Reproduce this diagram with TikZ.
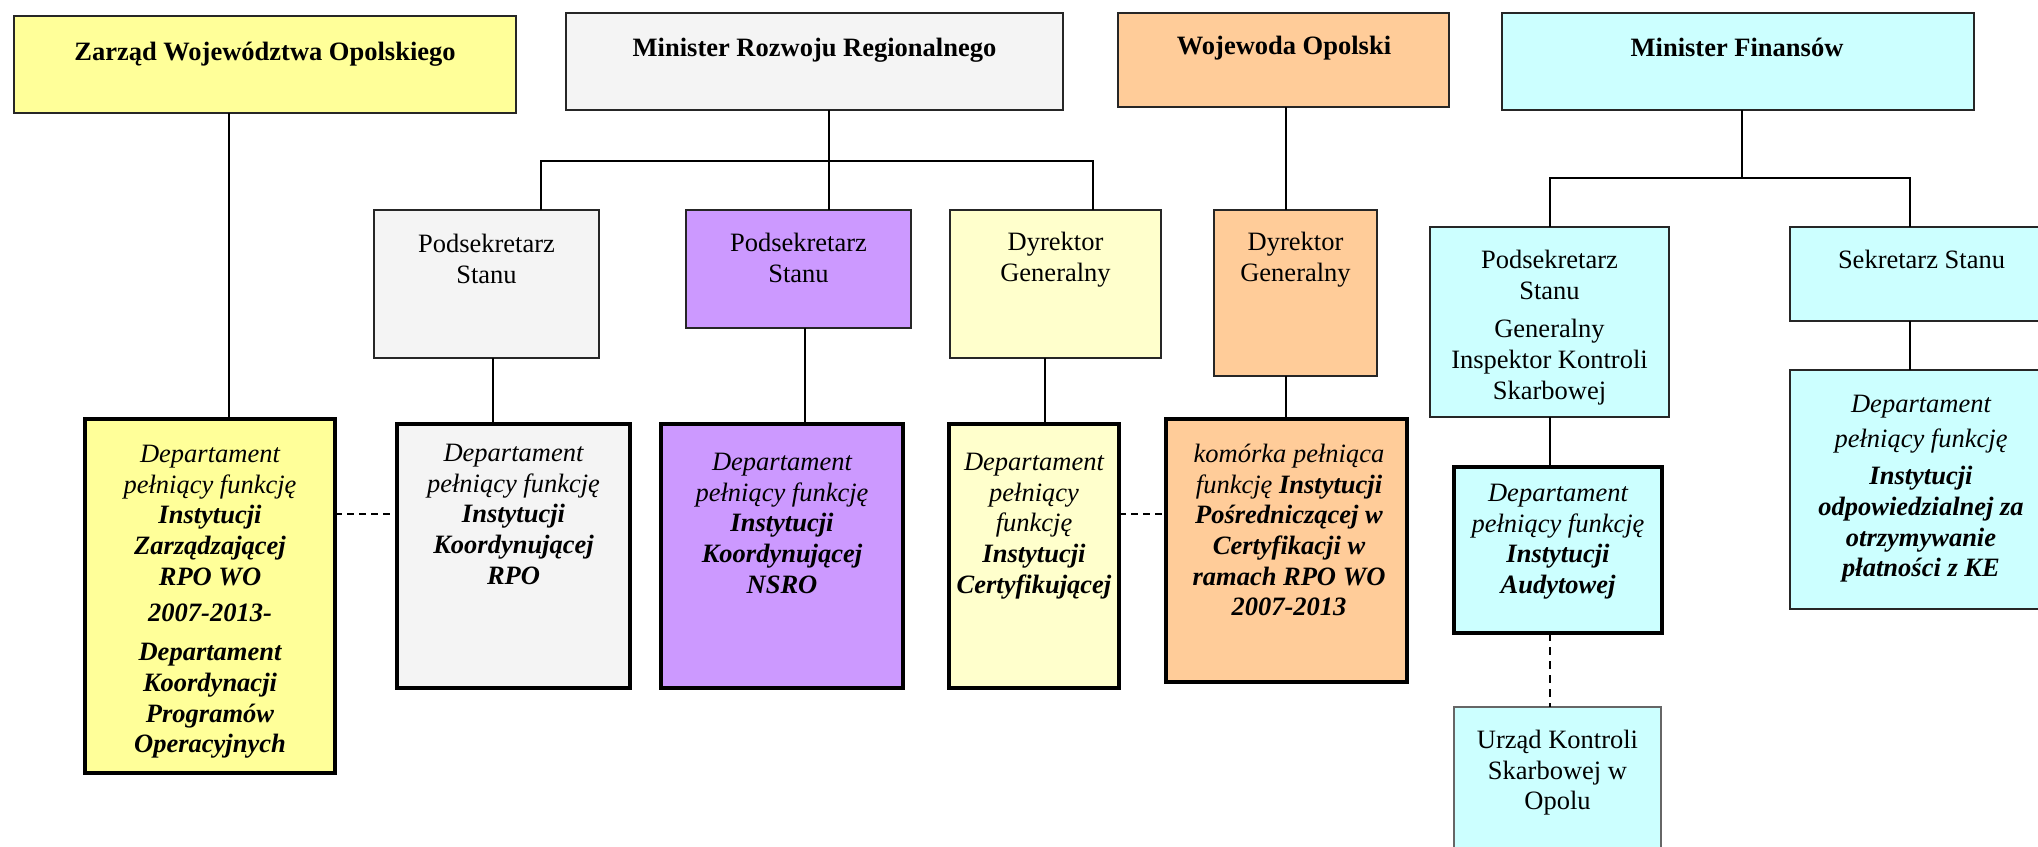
\documentclass[tikz,border=0pt]{standalone}
\usepackage{fontspec}
\setmainfont{Liberation Serif}
\definecolor{cyel}{HTML}{FFFF99}
\definecolor{cgrey}{HTML}{F4F4F4}
\definecolor{cpurp}{HTML}{CC99FF}
\definecolor{clyel}{HTML}{FFFFCC}
\definecolor{corange}{HTML}{FFCC99}
\definecolor{ccyan}{HTML}{CCFFFF}
\newcommand{\bfit}[1]{\textbf{\textit{#1}}}
\tikzset{
  box/.style={draw=black!85, line width=0.85pt, inner sep=0pt, outer sep=0pt, anchor=north west},
  thickbox/.style={draw=black, line width=2pt, inner sep=0pt, outer sep=0pt, anchor=north west},
  txt/.style={font=\fontsize{13.25}{15.35}\selectfont, align=center, inner sep=0pt, anchor=north},
  itxt/.style={txt, font=\fontsize{13.25}{15.35}\selectfont\itshape},
  conn/.style={line width=0.85pt, black},
  dconn/.style={conn, dash pattern=on 3.5pt off 2.5pt},
}
\begin{document}
\begin{tikzpicture}[x=0.5pt, y=-0.5pt]
\clip (0,0) rectangle (2038,846);
\fill[white] (0,0) rectangle (2038,846);

% top level
\node[box, fill=cyel, minimum width=251pt, minimum height=48.5pt] (zarzad) at (14,16) {};
\node[box, fill=cgrey, minimum width=248.5pt, minimum height=48.5pt] (mrr) at (566,13) {};
\node[box, fill=corange, minimum width=165.5pt, minimum height=47pt] (woj) at (1118,13) {};
\node[box, fill=ccyan, minimum width=236pt, minimum height=48.5pt] (mf) at (1502,13) {};

% second level
\node[box, fill=cgrey, minimum width=112.5pt, minimum height=74pt] (pod1) at (374,210) {};
\node[box, fill=cpurp, minimum width=112.5pt, minimum height=59pt] (pod2) at (686,210) {};
\node[box, fill=clyel, minimum width=105.5pt, minimum height=74pt] (dyr1) at (950,210) {};
\node[box, fill=corange, minimum width=81.5pt, minimum height=83pt] (dyr2) at (1214,210) {};
\node[box, fill=ccyan, minimum width=119.5pt, minimum height=95pt] (podmf) at (1430,227) {};
\node[box, fill=ccyan, minimum width=132pt, minimum height=47pt] (sek) at (1790,227) {};

% departments
\node[thickbox, fill=cyel, minimum width=125pt, minimum height=177pt] (dept1) at (85,419) {};
\node[thickbox, fill=cgrey, minimum width=116.5pt, minimum height=132pt] (dept2) at (397,424) {};
\node[thickbox, fill=cpurp, minimum width=121pt, minimum height=132pt] (dept3) at (661,424) {};
\node[thickbox, fill=clyel, minimum width=85pt, minimum height=132pt] (dept4) at (949,424) {};
\node[thickbox, fill=corange, minimum width=120.5pt, minimum height=131.5pt] (dept5) at (1166,419) {};
\node[thickbox, fill=ccyan, minimum width=104pt, minimum height=83pt] (audit) at (1454,467) {};
\node[box, fill=ccyan, minimum width=132pt, minimum height=119.5pt] (deptmf) at (1790,370) {};
\node[box, draw=black!60, fill=ccyan, minimum width=103.5pt, minimum height=81.5pt] (urzad) at (1454,707) {};

% texts
\node[txt] (tzarzad) at (265,38.5) {\strut\textbf{Zarząd Województwa Opolskiego}};
\node[txt] (tmrr) at (814.5,34.5) {\strut\textbf{Minister Rozwoju Regionalnego}};
\node[txt] (twoj) at (1284,32.5) {\strut\textbf{Wojewoda Opolski}};
\node[txt] (tmf) at (1737,34.5) {\strut\textbf{Minister Finansów}};
\node[txt] (tpod1) at (486.5,230.5) {\strut Podsekretarz\\Stanu};
\node[txt] (tpod2) at (798.5,229.5) {\strut Podsekretarz\\Stanu};
\node[txt] (tdyr1) at (1055.5,228.5) {\strut Dyrektor\\Generalny};
\node[txt] (tdyr2) at (1295.5,228.5) {\strut Dyrektor\\Generalny};
\node[txt] (tpodmf) at (1549.5,246.5) {\strut Podsekretarz\\Stanu\\[4pt]Generalny\\Inspektor Kontroli\\Skarbowej};
\node[txt] (tsek) at (1921.5,246.5) {\strut Sekretarz Stanu};
\node[itxt] (tdept1) at (210,440.5) {\strut\textit{Departament}\\\textit{pełniący funkcję}\\\bfit{Instytucji}\\\bfit{Zarządzającej}\\\bfit{RPO WO}\\[3pt]\bfit{2007-2013-}\\[4pt]\bfit{Departament}\\\bfit{Koordynacji}\\\bfit{Programów}\\\bfit{Operacyjnych}};
\node[itxt] (tdept2) at (513.5,439.5) {\strut\textit{Departament}\\\textit{pełniący funkcję}\\\bfit{Instytucji}\\\bfit{Koordynującej}\\\bfit{RPO}};
\node[itxt] (tdept3) at (782,448.5) {\strut\textit{Departament}\\\textit{pełniący funkcję}\\\bfit{Instytucji}\\\bfit{Koordynującej}\\\bfit{NSRO}};
\node[itxt] (tdept4) at (1034,448.5) {\strut\textit{Departament}\\\textit{pełniący}\\\textit{funkcję}\\\bfit{Instytucji}\\\bfit{Certyfikującej}};
\node[itxt] (tdept5) at (1289,440.5) {\strut\textit{komórka pełniąca}\\\textit{funkcję} \bfit{Instytucji}\\\bfit{Pośredniczącej w}\\\bfit{Certyfikacji w}\\\bfit{ramach RPO WO}\\\bfit{2007-2013}};
\node[itxt] (taudit) at (1558,479.5) {\strut\textit{Departament}\\\textit{pełniący funkcję}\\\bfit{Instytucji}\\\bfit{Audytowej}};
\node[itxt] (tdeptmf) at (1921,390.5) {\strut\textit{Departament}\\[2pt]\textit{pełniący funkcję}\\[3.5pt]\bfit{Instytucji}\\\bfit{odpowiedzialnej za}\\\bfit{otrzymywanie}\\\bfit{płatności z KE}};
\node[txt] (turzad) at (1557.5,726.5) {\strut Urząd Kontroli\\Skarbowej w\\Opolu};

% connector positions
\coordinate (kz) at (229,0);
\coordinate (km) at (829,0);
\coordinate (bl) at (541,161);
\coordinate (br) at (1093,161);
\coordinate (kp1) at (493,0);
\coordinate (kp2) at (805,0);
\coordinate (kd1) at (1045,0);
\coordinate (kw) at (1286,0);
\coordinate (fm) at (1742,178);
\coordinate (fl) at (1550,178);
\coordinate (fr) at (1910,178);
\coordinate (ka) at (1550,0);
\coordinate (hy) at (0,514);

% connectors
\draw[conn] (zarzad.south -| kz) -- (dept1.north -| kz);
\draw[conn] (mrr.south -| km) -- (pod2.north -| km);
\draw[conn] (pod1.north -| bl) -- (bl) -- (br) -- (dyr1.north -| br);
\draw[conn] (pod1.south -| kp1) -- (dept2.north -| kp1);
\draw[conn] (pod2.south -| kp2) -- (dept3.north -| kp2);
\draw[conn] (dyr1.south -| kd1) -- (dept4.north -| kd1);
\draw[conn] (woj.south -| kw) -- (dyr2.north -| kw);
\draw[conn] (dyr2.south -| kw) -- (dept5.north -| kw);
\draw[conn] (mf.south -| fm) -- (fm);
\draw[conn] (podmf.north -| fl) -- (fl) -- (fr) -- (sek.north -| fr);
\draw[conn] (sek.south -| fr) -- (deptmf.north -| fr);
\draw[conn] (podmf.south -| ka) -- (audit.north -| ka);
\draw[conn, dash pattern=on 4pt off 3pt] (audit.south -| ka) -- (urzad.north -| ka);
\draw[dconn] (dept1.east |- hy) -- (dept2.west |- hy);
\draw[dconn] (dept4.east |- hy) -- (dept5.west |- hy);
\end{tikzpicture}
\end{document}
